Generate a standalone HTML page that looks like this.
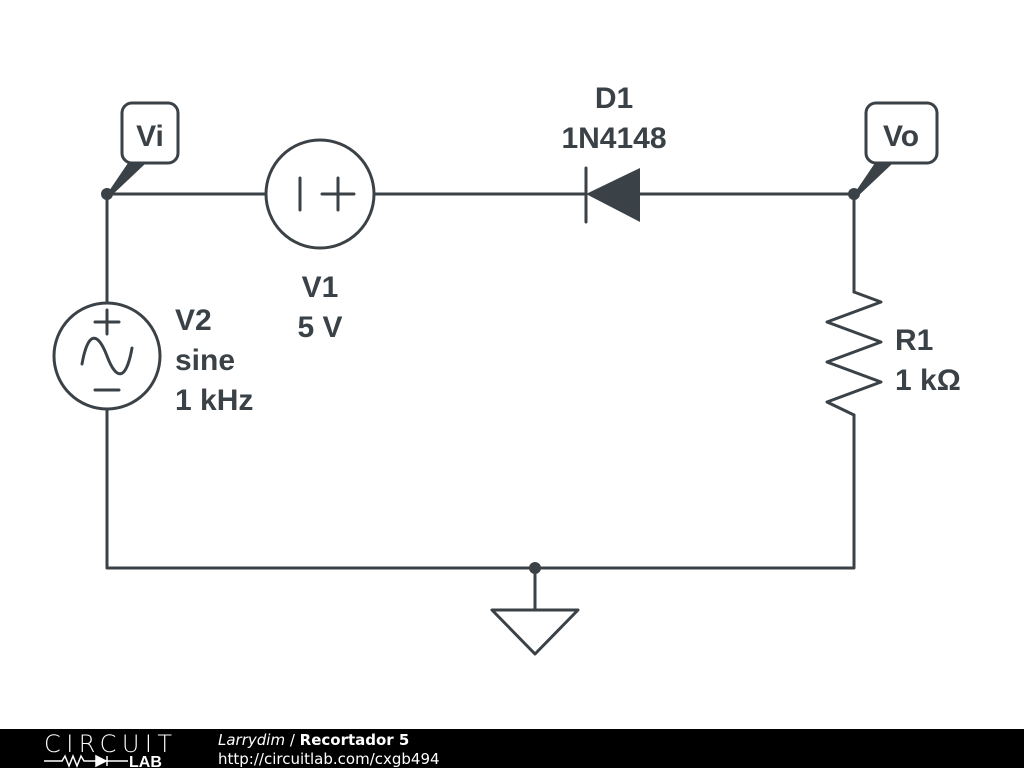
<!DOCTYPE html>
<html><head><style>
body{margin:0;width:1024px;height:768px;background:#fff;overflow:hidden;font-family:"Liberation Sans","DejaVu Sans",sans-serif}
</style></head><body>
<svg width="1024" height="768" viewBox="0 0 1024 768" xmlns="http://www.w3.org/2000/svg">
<g stroke="#3b4247" stroke-width="3" fill="none" stroke-linecap="round" stroke-linejoin="round">
<path d="M107 194H266M374 194H586M640 194H854"/>
<path d="M107 194V303M107 409V568H854V415M854 194V292"/>
<path d="M854 292L881 302L827 322L881 342L827 362L881 382L827 402L854 415"/>
<circle cx="320" cy="194" r="54"/>
<path d="M300 178V210M322 194H354M338 178V210"/>
<circle cx="107" cy="356" r="53"/>
<path d="M95 322H119M107 310V334M95 390H119"/>
<path d="M82 364C88 330 98 332 107 356S126 382 132 348"/>
<path d="M586 168V222"/>
<path d="M535 568V610M492 610H578L535 654Z"/>
<rect x="122" y="103" width="56" height="60" rx="10"/>
<rect x="866" y="103" width="71" height="60" rx="10"/>
</g>
<path d="M586 194L640 168V222Z" fill="#3b4247"/>
<path d="M107 194L128 163H146L110 197Z" fill="#3b4247"/>
<path d="M854 194L875 163H893L857 197Z" fill="#3b4247"/>
<g fill="#3b4247">
<circle cx="107" cy="194" r="6"/><circle cx="854" cy="194" r="6"/><circle cx="535" cy="568" r="6"/>
</g>
<g fill="#3b4247" font-weight="bold" font-size="30">
<text x="150" y="146" text-anchor="middle">Vi</text>
<text x="901" y="146" text-anchor="middle">Vo</text>
<text x="614" y="108" text-anchor="middle">D1</text>
<text x="614" y="148" text-anchor="middle">1N4148</text>
<text x="320" y="297" text-anchor="middle">V1</text>
<text x="320" y="337" text-anchor="middle">5 V</text>
<text x="175" y="330">V2</text>
<text x="175" y="370">sine</text>
<text x="175" y="410">1 kHz</text>
<text x="895" y="350">R1</text>
<text x="895" y="390">1 kΩ</text>
</g>
<rect x="0" y="729" width="1024" height="39" fill="#000"/>
<text x="44" y="752" fill="#fff" font-size="24" font-family="DejaVu Sans, sans-serif" font-weight="200" textLength="128">CIRCUIT</text>
<path d="M44 761H62L65 756L69 766L73 756L77 766L81 756L84 761H96" stroke="#fff" stroke-width="1.5" fill="none"/>
<path d="M96 756V766L106 761Z M107 756V766" fill="#fff" stroke="#fff" stroke-width="1.5"/>
<path d="M107 761H128" stroke="#fff" stroke-width="1.5"/>
<text x="129" y="767" fill="#fff" font-size="16" font-weight="bold">LAB</text>
<text x="218" y="745" fill="#fff" font-size="15" font-family="DejaVu Sans, sans-serif"><tspan font-style="italic">Larrydim</tspan> / <tspan font-weight="bold">Recortador 5</tspan></text>
<text x="218" y="764" fill="#fff" font-size="15" font-family="DejaVu Sans, sans-serif">http://circuitlab.com/cxgb494</text>
</svg>
</body></html>
